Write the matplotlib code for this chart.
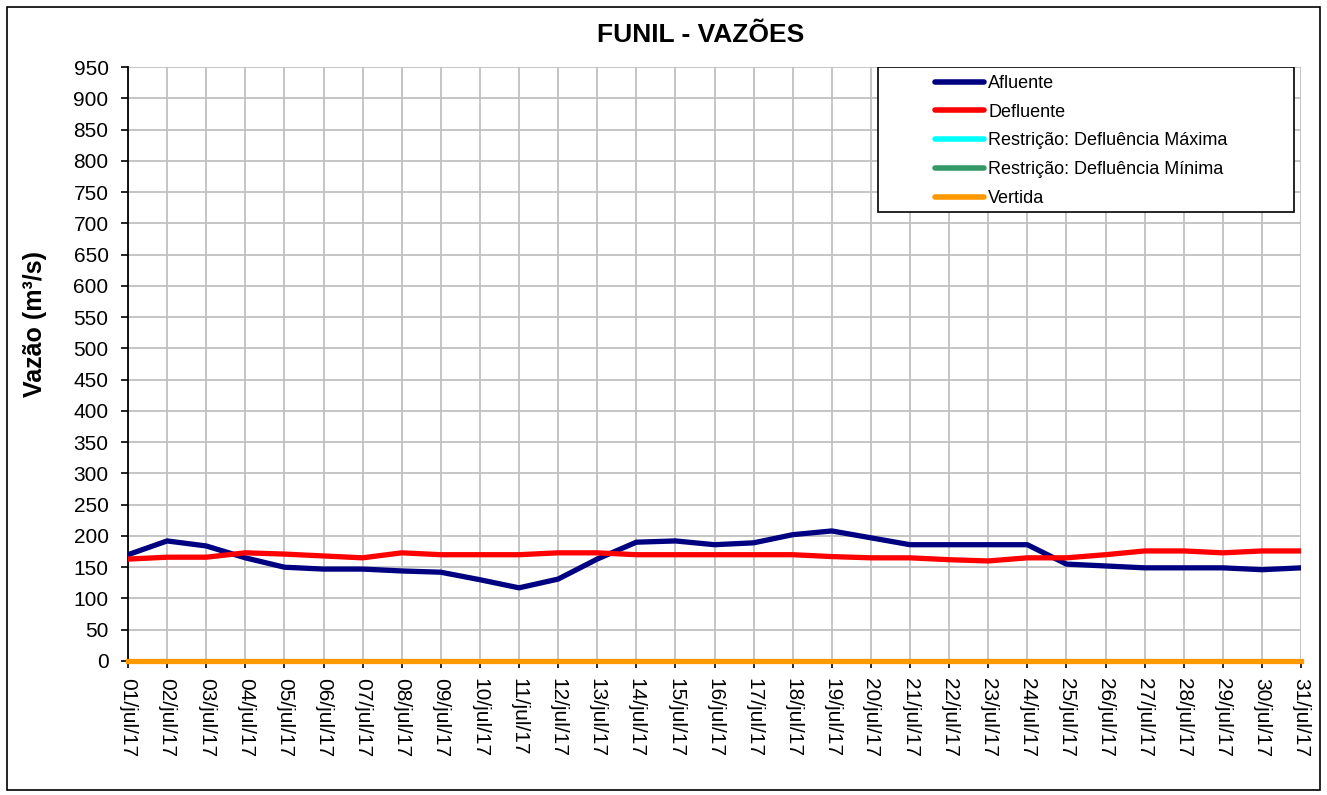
'''
FUNIL - vazoes diarias, julho/2017
'''

import matplotlib
matplotlib.use('Agg')
import matplotlib.pyplot as plt
import numpy as np
from matplotlib.patches import Rectangle

DAYS = list(range(1, 32))
DAY_LABELS = ['{:02d}/jul/17'.format(d) for d in DAYS]

AFLUENTE = [170, 192, 184, 165, 150, 147, 147, 144, 142, 130, 117, 131, 163, 190, 192, 186,
            189, 202, 208, 197, 186, 186, 186, 186, 155, 152, 149, 149, 149, 146, 149]
DEFLUENTE = [163, 166, 166, 173, 171, 168, 165, 173, 170, 170, 170, 173, 173, 170, 170, 170,
             170, 170, 167, 165, 165, 162, 160, 165, 165, 170, 176, 176, 173, 176, 176]
RESTR_MAX = [np.nan] * 31
RESTR_MIN = [np.nan] * 31
VERTIDA = [0] * 31

Y_TICKS = list(range(0, 951, 50))

plt.rcParams['font.family'] = ['Liberation Sans', 'DejaVu Sans']

fig_ = plt.figure(figsize=(13.27, 7.95), dpi=100)
ax_ = fig_.add_axes([128 / 1327, 1 - 661 / 795, 1173 / 1327, 594 / 795])

x_ = np.arange(len(DAYS))
lw_ = 3.8
ax_.plot(x_, AFLUENTE, color='#000080', lw=lw_, label='Afluente', zorder=3)
ax_.plot(x_, DEFLUENTE, color='#ff0000', lw=lw_, label='Defluente', zorder=3)
ax_.plot(x_, RESTR_MAX, color='#00ffff', lw=lw_, label='Restrição: Defluência Máxima', zorder=3)
ax_.plot(x_, RESTR_MIN, color='#339966', lw=lw_, label='Restrição: Defluência Mínima', zorder=3)
ax_.plot(x_, VERTIDA, color='#ff9900', lw=lw_, label='Vertida', zorder=4, clip_on=False)

ax_.set_xlim(0, len(DAYS) - 1)
ax_.set_ylim(0, 950)
ax_.set_xticks(x_)
ax_.set_xticklabels(DAY_LABELS, rotation=-90, fontsize=15)
ax_.set_yticks(Y_TICKS)
ax_.set_yticklabels([str(v) for v in Y_TICKS], fontsize=15)
ax_.tick_params(axis='y', direction='out', length=5, width=1.2, pad=9)
ax_.tick_params(axis='x', direction='out', length=5, width=1.2, pad=7)

ax_.grid(True, color='#c0c0c0', lw=1.3)
ax_.set_axisbelow(True)
for side in ['top', 'right']:
    ax_.spines[side].set_visible(False)
ax_.spines['left'].set_linewidth(1.3)
ax_.spines['bottom'].set_linewidth(1.3)

# legend box (excel style, handles pushed to the right)
box_ = Rectangle((878 / 1327, 1 - 212 / 795), 416 / 1327, 145 / 795,
                 transform=fig_.transFigure, facecolor='white', edgecolor='black',
                 lw=1.2, zorder=5)
ax_.add_patch(box_)
leg_ = ax_.legend(loc='upper left', bbox_to_anchor=((935 - 128) / 1173, (661 - 75) / 594),
                  frameon=False, fontsize=13, handlelength=2.7, handletextpad=0.25,
                  labelspacing=0.65, borderpad=0, borderaxespad=0)
leg_.set_zorder(6)
for line in leg_.get_lines():
    line.set_linewidth(4)
    line.set_solid_capstyle('round')

fig_.text(701 / 1327, 1 - 35 / 795, 'FUNIL - VAZÕES', ha='center', va='center',
          fontsize=19, fontweight='bold')
fig_.text(35 / 1327, 1 - 324 / 795, 'Vazão (m³/s)', ha='center', va='center',
          rotation=90, fontsize=18, fontweight='bold')

fig_.add_artist(Rectangle((7 / 1327, 5 / 795), 1313 / 1327, 783 / 795,
                          transform=fig_.transFigure, fill=False, edgecolor='black', lw=1.2))

fig_.savefig('out.png', dpi=100)
